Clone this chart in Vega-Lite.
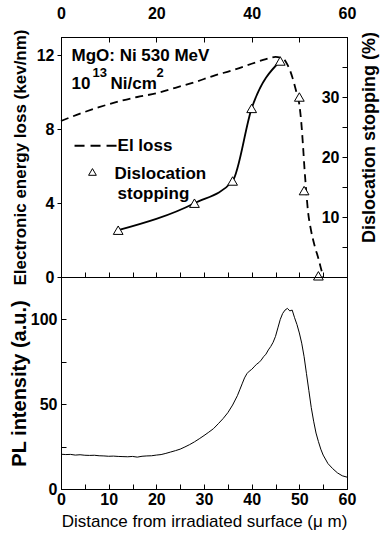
{
  "$schema": "https://vega.github.io/schema/vega-lite/v6.json",
  "background": "white",
  "padding": {"left": 8, "top": 4, "right": 2, "bottom": 2},
  "spacing": 0,
  "bounds": "flush",
  "config": {
    "font": "Liberation Sans",
    "view": {"stroke": "black", "strokeWidth": 1},
    "axis": {
      "grid": false,
      "domainColor": "black",
      "tickColor": "black",
      "labelColor": "black",
      "titleColor": "black",
      "labelFont": "Liberation Sans",
      "titleFont": "Liberation Sans",
      "labelFontSize": 16,
      "labelFontWeight": "bold",
      "titleFontSize": 17,
      "titleFontWeight": "bold",
      "labelFlush": false,
      "labelOverlap": false,
      "domainWidth": 1,
      "tickWidth": 1
    }
  },
  "datasets": {
    "elloss": [
      {"x": 0, "e": 8.45}, {"x": 4, "e": 8.85}, {"x": 8, "e": 9.2}, {"x": 12, "e": 9.5},
      {"x": 16, "e": 9.75}, {"x": 20, "e": 9.95}, {"x": 24, "e": 10.25}, {"x": 28, "e": 10.55},
      {"x": 32, "e": 10.9}, {"x": 36, "e": 11.2}, {"x": 40, "e": 11.55}, {"x": 43, "e": 11.8},
      {"x": 45, "e": 11.92}, {"x": 46.5, "e": 11.85}, {"x": 47.5, "e": 11.5}, {"x": 48.5, "e": 10.85},
      {"x": 49.3, "e": 10.1}, {"x": 50, "e": 9.35}, {"x": 50.4, "e": 8.4}, {"x": 50.8, "e": 7.0},
      {"x": 51.1, "e": 5.8}, {"x": 51.4, "e": 4.8}, {"x": 51.8, "e": 3.6}, {"x": 52.4, "e": 2.6},
      {"x": 53.2, "e": 1.7}, {"x": 54, "e": 1.0}, {"x": 54.7, "e": 0.3}, {"x": 55, "e": 0}
    ],
    "disloc": [
      {"x": 12, "d": 7.8, "curve": true}, {"x": 28, "d": 12.3, "curve": true},
      {"x": 36, "d": 16.0, "curve": true}, {"x": 40, "d": 28.1, "curve": true},
      {"x": 46, "d": 36.0, "curve": true}, {"x": 50, "d": 30.0, "curve": false},
      {"x": 51, "d": 14.4, "curve": false}, {"x": 54, "d": 0.2, "curve": false}
    ],
    "pl": [
      {"x": 0, "p": 20.5}, {"x": 1, "p": 20.3}, {"x": 2, "p": 20.4}, {"x": 3, "p": 20.0},
      {"x": 4, "p": 20.2}, {"x": 5, "p": 19.9}, {"x": 6, "p": 19.8}, {"x": 7, "p": 19.9},
      {"x": 8, "p": 19.6}, {"x": 9, "p": 19.5}, {"x": 10, "p": 19.3}, {"x": 11, "p": 19.4},
      {"x": 12, "p": 19.2}, {"x": 13, "p": 19.1}, {"x": 14, "p": 19.0}, {"x": 15, "p": 19.2},
      {"x": 16, "p": 18.8}, {"x": 17, "p": 19.3}, {"x": 18, "p": 19.5}, {"x": 19, "p": 19.6},
      {"x": 20, "p": 20.0}, {"x": 21, "p": 20.3}, {"x": 22, "p": 21.0}, {"x": 23, "p": 21.8},
      {"x": 24, "p": 22.6}, {"x": 25, "p": 23.5}, {"x": 26, "p": 24.8}, {"x": 27, "p": 26.2},
      {"x": 28, "p": 27.8}, {"x": 29, "p": 29.6}, {"x": 30, "p": 31.5}, {"x": 31, "p": 33.5},
      {"x": 32, "p": 35.6}, {"x": 33, "p": 38.5}, {"x": 34, "p": 41.5}, {"x": 35, "p": 45},
      {"x": 36, "p": 49.5}, {"x": 37, "p": 55}, {"x": 37.5, "p": 58.5}, {"x": 38, "p": 62},
      {"x": 38.5, "p": 65.5}, {"x": 39, "p": 68}, {"x": 39.5, "p": 69.5}, {"x": 40, "p": 70.5},
      {"x": 40.5, "p": 72}, {"x": 41, "p": 73.5}, {"x": 41.5, "p": 74.5}, {"x": 42, "p": 76},
      {"x": 42.5, "p": 78}, {"x": 43, "p": 79.5}, {"x": 43.5, "p": 82}, {"x": 44, "p": 84},
      {"x": 44.5, "p": 86.5}, {"x": 45, "p": 90}, {"x": 45.5, "p": 95}, {"x": 46, "p": 100},
      {"x": 46.5, "p": 103.5}, {"x": 47, "p": 105.5}, {"x": 47.5, "p": 106.5}, {"x": 48, "p": 105},
      {"x": 48.5, "p": 105.5}, {"x": 49, "p": 101}, {"x": 49.5, "p": 97}, {"x": 50, "p": 92},
      {"x": 50.5, "p": 86}, {"x": 51, "p": 78}, {"x": 51.5, "p": 68}, {"x": 52, "p": 58},
      {"x": 52.5, "p": 48}, {"x": 53, "p": 40}, {"x": 53.5, "p": 33}, {"x": 54, "p": 28},
      {"x": 54.5, "p": 23.5}, {"x": 55, "p": 20}, {"x": 56, "p": 15}, {"x": 57, "p": 12},
      {"x": 58, "p": 9.5}, {"x": 59, "p": 7.8}, {"x": 60, "p": 7}
    ]
  },
  "vconcat": [
    {
      "width": 286,
      "height": 240,
      "layer": [
        {
          "layer": [
            {
              "data": {"name": "elloss"},
              "mark": {"type": "line", "stroke": "black", "strokeWidth": 1.8, "strokeDash": [8, 5], "interpolate": "monotone"},
              "encoding": {
                "x": {"field": "x", "type": "quantitative", "scale": {"domain": [0, 60], "nice": false},
                  "axis": {"orient": "top", "title": null, "values": [0, 10, 20, 30, 40, 50, 60],
                    "labelExpr": "datum.value % 20 === 0 ? datum.label : ''", "tickSize": -5, "labelPadding": 21}},
                "y": {"field": "e", "type": "quantitative", "scale": {"domain": [0, 13], "nice": false},
                  "axis": {"orient": "left", "title": "Electronic energy loss (kev/nm)", "values": [0, 2, 4, 6, 8, 10, 12],
                    "labelExpr": "datum.value % 4 === 0 ? datum.label : ''", "tickSize": 4, "labelPadding": 3, "titlePadding": 7}}
              }
            },
            {
              "data": {"values": [{}]},
              "mark": {"type": "text", "text": "MgO: Ni 530 MeV", "align": "left", "baseline": "alphabetic", "fontSize": 17, "fontWeight": "bold", "color": "black"},
              "encoding": {"x": {"datum": 2.2}, "y": {"datum": 11.7}}
            },
            {
              "data": {"values": [{}]},
              "mark": {"type": "text", "text": "10", "align": "left", "baseline": "alphabetic", "fontSize": 17, "fontWeight": "bold", "color": "black"},
              "encoding": {"x": {"datum": 2.2}, "y": {"datum": 10.18}}
            },
            {
              "data": {"values": [{}]},
              "mark": {"type": "text", "text": "13", "align": "left", "baseline": "alphabetic", "fontSize": 13, "fontWeight": "bold", "color": "black", "dx": 21, "dy": -12},
              "encoding": {"x": {"datum": 2.2}, "y": {"datum": 10.18}}
            },
            {
              "data": {"values": [{}]},
              "mark": {"type": "text", "text": "Ni/cm", "align": "left", "baseline": "alphabetic", "fontSize": 17, "fontWeight": "bold", "color": "black", "dx": 39},
              "encoding": {"x": {"datum": 2.2}, "y": {"datum": 10.18}}
            },
            {
              "data": {"values": [{}]},
              "mark": {"type": "text", "text": "2", "align": "left", "baseline": "alphabetic", "fontSize": 13, "fontWeight": "bold", "color": "black", "dx": 85, "dy": -12},
              "encoding": {"x": {"datum": 2.2}, "y": {"datum": 10.18}}
            },
            {
              "data": {"values": [{}]},
              "mark": {"type": "rule", "stroke": "black", "strokeWidth": 1.8, "strokeDash": [10, 6]},
              "encoding": {"x": {"datum": 2.84}, "x2": {"datum": 11.66}, "y": {"datum": 7.11}}
            },
            {
              "data": {"values": [{}]},
              "mark": {"type": "text", "text": "El loss", "align": "left", "baseline": "middle", "fontSize": 17, "fontWeight": "bold", "color": "black"},
              "encoding": {"x": {"datum": 11.87}, "y": {"datum": 7.11}}
            },
            {
              "data": {"values": [{}]},
              "mark": {"type": "point", "shape": "triangle-up", "filled": true, "fill": "white", "stroke": "black", "strokeWidth": 1, "size": 60, "opacity": 1},
              "encoding": {"x": {"datum": 6.6}, "y": {"datum": 5.69}}
            },
            {
              "data": {"values": [{}]},
              "mark": {"type": "text", "text": "Dislocation", "align": "left", "baseline": "middle", "fontSize": 17, "fontWeight": "bold", "color": "black"},
              "encoding": {"x": {"datum": 11.24}, "y": {"datum": 5.58}}
            },
            {
              "data": {"values": [{}]},
              "mark": {"type": "text", "text": "stopping", "align": "left", "baseline": "middle", "fontSize": 17, "fontWeight": "bold", "color": "black"},
              "encoding": {"x": {"datum": 11.87}, "y": {"datum": 4.5}}
            }
          ]
        },
        {
          "data": {"name": "disloc"},
          "encoding": {
            "x": {"field": "x", "type": "quantitative", "scale": {"domain": [0, 60], "nice": false},
              "axis": {"orient": "bottom", "title": null, "labels": false, "values": [0, 5, 10, 15, 20, 25, 30, 35, 40, 45, 50, 55, 60], "tickSize": -5}},
            "y": {"field": "d", "type": "quantitative", "scale": {"domain": [0, 40], "nice": false},
              "axis": {"orient": "right", "title": "Dislocation stopping (%)", "titleFontSize": 18, "titleAngle": 270, "titleY": 100, "values": [0, 5, 10, 15, 20, 25, 30, 35, 40],
                "labelExpr": "datum.value === 10 || datum.value === 20 || datum.value === 30 ? datum.label : ''",
                "tickSize": -5, "labelPadding": -3, "labelAlign": "right", "titlePadding": 31}}
          },
          "layer": [
            {
              "transform": [{"filter": "datum.curve"}],
              "mark": {"type": "line", "stroke": "black", "strokeWidth": 1.8, "interpolate": "monotone"}
            },
            {
              "mark": {"type": "point", "shape": "triangle-up", "filled": true, "fill": "white", "stroke": "black", "strokeWidth": 1, "size": 95, "opacity": 1}
            }
          ]
        }
      ],
      "resolve": {"scale": {"x": "independent", "y": "independent"}}
    },
    {
      "width": 286,
      "height": 212,
      "data": {"name": "pl"},
      "mark": {"type": "line", "stroke": "black", "strokeWidth": 1},
      "encoding": {
        "x": {"field": "x", "type": "quantitative", "scale": {"domain": [0, 60], "nice": false},
          "axis": {"orient": "bottom", "title": "Distance from irradiated surface (μ m)", "titleFontWeight": "normal", "titleFontSize": 17,
            "values": [0, 5, 10, 15, 20, 25, 30, 35, 40, 45, 50, 55, 60],
            "labelExpr": "datum.value % 10 === 0 ? datum.label : ''", "tickSize": -5, "labelPadding": 7, "titlePadding": 6}},
        "y": {"field": "p", "type": "quantitative", "scale": {"domain": [0, 125], "nice": false},
          "axis": {"orient": "left", "title": "PL intensity (a.u.)", "titleFontSize": 20, "values": [0, 25, 50, 75, 100],
            "labelExpr": "datum.value % 50 === 0 ? datum.label : ''", "tickSize": -5, "labelPadding": 9, "titlePadding": 1}}
      }
    }
  ]
}
